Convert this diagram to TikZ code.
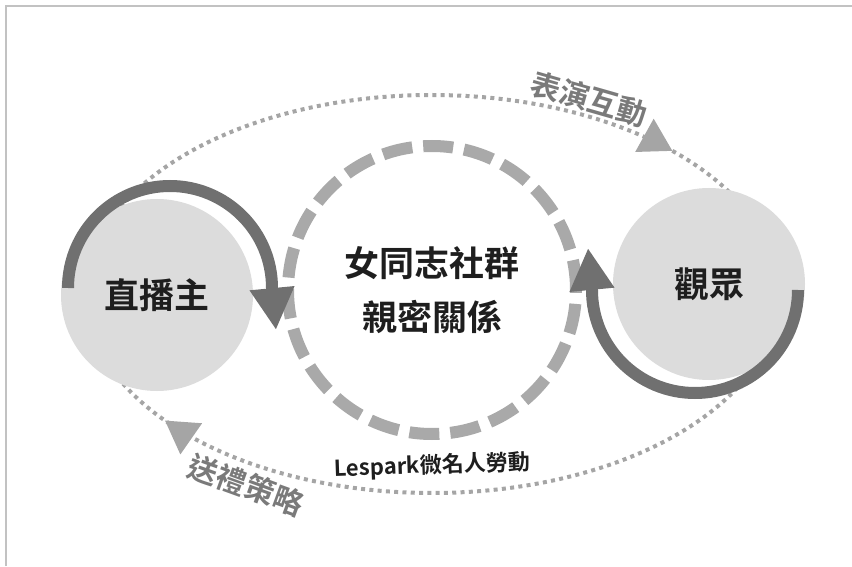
\documentclass[tikz,border=0pt]{standalone}
\usepackage{fontspec}
\setmainfont{Noto Sans CJK TC}[BoldFont=* Bold]
\usetikzlibrary{arrows.meta, decorations.markings}
\definecolor{discgray}{HTML}{DCDCDC}
\definecolor{spingray}{HTML}{707070}
\definecolor{ringgray}{HTML}{A9A9A9}
\definecolor{orbitgray}{HTML}{A5A5A5}
\definecolor{taggray}{HTML}{7A7A7A}
\definecolor{inkblack}{HTML}{1E1E1E}
\definecolor{framegray}{HTML}{C2C2C2}

\begin{document}
\begin{tikzpicture}[x=1pt, y=1pt,
			actor/.style = {circle, fill=discgray, minimum size=192pt, inner sep=0pt, text=inkblack, font=\fontsize{35}{40}\selectfont\bfseries},
			ring/.style  = {circle, draw=ringgray, line width=12pt, dash pattern=on 30pt off 11pt, minimum size=288pt, inner sep=0pt, align=center, text=inkblack, font=\fontsize{35}{54}\selectfont\bfseries},
			spin/.style  = {draw=spingray, line width=12pt, -{Triangle[length=42pt, width=42pt]}},
			orbit/.style = {draw=orbitgray, line width=4pt, dash pattern=on 4pt off 4.3pt},
			tag/.style   = {text=taggray, font=\fontsize{30}{36}\selectfont\bfseries},
			head/.style  = {Triangle[length=32pt, width=37pt]}]
			
			\useasboundingbox (0,0) rectangle (852,566);
			\draw[framegray, line width=2pt] (6,0) -- (6,560) -- (852,560);
			
			% dotted loop between the two sides
			\coordinate (mid) at (432,272);
			\draw[orbit, postaction={decorate, decoration={markings,
					mark=at position 0.107 with {\arrowreversed{Triangle[length=32pt, width=37pt]}},
					mark=at position 0.589 with {\arrowreversed{Triangle[length=32pt, width=37pt]}}}}]
				(mid) ellipse[x radius=346, y radius=199];
			
			\node[actor] (host) at (157,271) {直播主};
			\node[actor] (crowd) at (709,282) {觀眾};
			\node[ring] (bond) at (432,276) {女同志社群\\親密關係};
			
			% turning arrows round the two circles
			\coordinate (hostspin) at ([shift={(13,7)}]host.center);
			\coordinate (crowdspin) at ([shift={(-14,-6)}]crowd.center);
			\draw[spin] (hostspin) ++(180:102) arc[start angle=180, end angle=0, radius=102] -- ++(4,-42);
			\draw[spin] (crowdspin) ++(0:103) arc[start angle=0, end angle=-180, radius=103] -- ++(-4,42);
			
			\node[tag, rotate=-16] (perf) at (589,467) {表演互動};
			\node[tag, rotate=-20] (gift) at (246,81) {送禮策略};
			\node[text=inkblack, rotate=2, font=\fontsize{22}{26}\selectfont\bfseries] (labor) at (432,100) {Lespark微名人勞動};
		\end{tikzpicture}
\end{document}
